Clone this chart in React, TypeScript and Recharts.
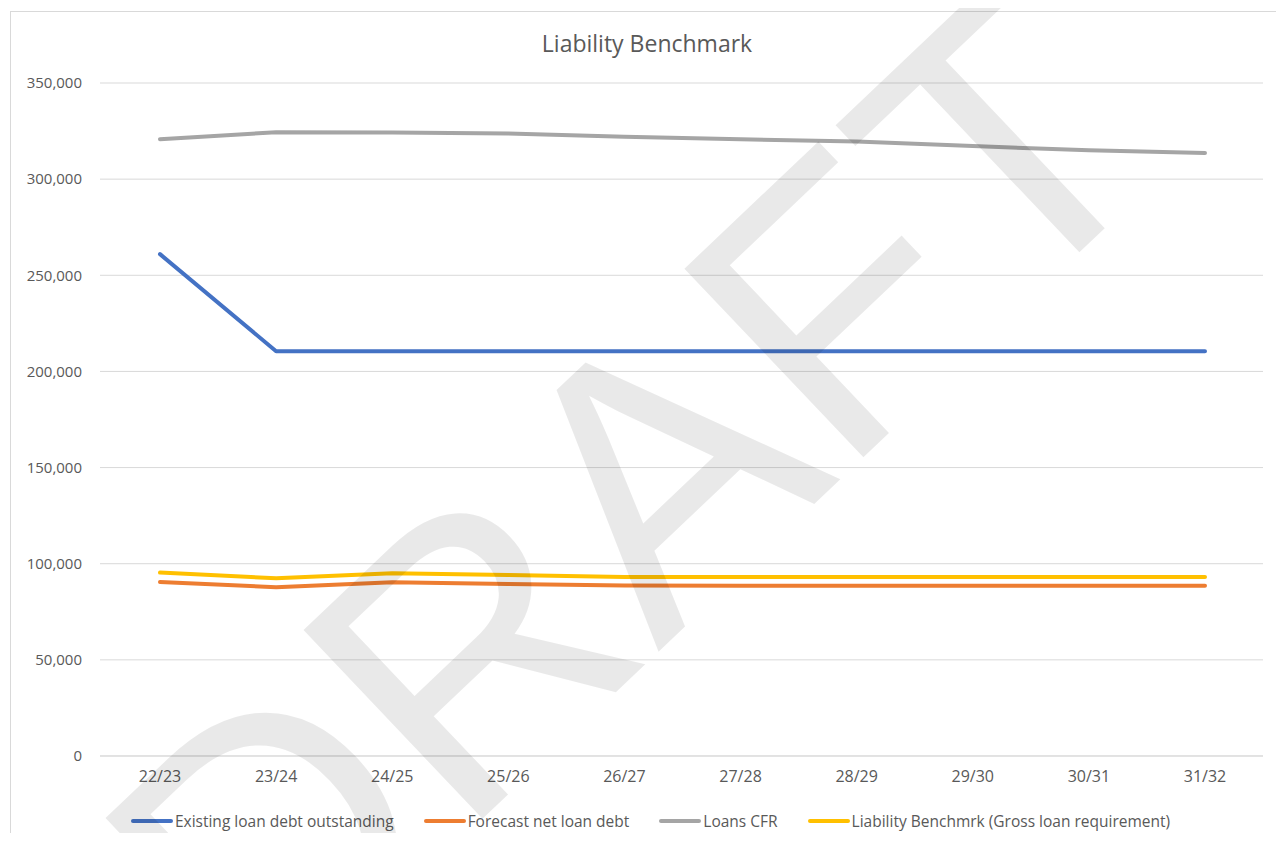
import React from "react";
import { LineChart, Line, XAxis, YAxis, CartesianGrid, Legend } from "recharts";

const years = ["22/23", "23/24", "24/25", "25/26", "26/27", "27/28", "28/29", "29/30", "30/31", "31/32"];
const existingDebt = [261000, 210500, 210500, 210500, 210500, 210500, 210500, 210500, 210500, 210500];
const forecastNetDebt = [90500, 87800, 90300, 89500, 88700, 88600, 88600, 88600, 88600, 88600];
const loansCFR = [320800, 324400, 324300, 323800, 322000, 320700, 319600, 317200, 315000, 313600];
const benchmark = [95400, 92400, 95000, 94100, 93100, 93100, 93100, 93100, 93100, 93100];
const yTicks = [0, 50000, 100000, 150000, 200000, 250000, 300000, 350000];

const series = [
  { key: "existing", name: "Existing loan debt outstanding", color: "#4472C4" },
  { key: "forecast", name: "Forecast net loan debt", color: "#ED7D31" },
  { key: "cfr", name: "Loans CFR", color: "#A5A5A5" },
  { key: "bench", name: "Liability Benchmrk (Gross loan requirement)", color: "#FFC000" },
];

const data = years.map((year, i) => ({
  year,
  existing: existingDebt[i],
  forecast: forecastNetDebt[i],
  cfr: loansCFR[i],
  bench: benchmark[i],
}));

const FONT = "'Open Sans', 'Liberation Sans', sans-serif";
const TEXT = "#595959";

// legend in series order (recharts 3 sorts payload by name otherwise)
function renderLegend() {
  return (
    <div style={{ display: "flex", justifyContent: "center", alignItems: "center", paddingLeft: 38, height: 30 }}>
      {series.map((s, i) => (
        <div key={s.key} style={{ display: "flex", alignItems: "center", marginRight: i < series.length - 1 ? 30 : 0 }}>
          <span style={{ display: "inline-block", width: 42, height: 4, borderRadius: 2, background: s.color }} />
          <span style={{ marginLeft: 2, fontSize: 15.5, color: TEXT, fontFamily: FONT }}>{s.name}</span>
        </div>
      ))}
    </div>
  );
}

export default function App() {
  return (
    <div style={{ position: "relative", margin: -8, width: 1284, height: 841, overflow: "hidden", background: "#fff", fontFamily: FONT }}>
      <div style={{ position: "absolute", left: 10, top: 11, width: 1320, height: 900, border: "1px solid #d9d9d9" }} />
      <div style={{ position: "absolute", left: 0, top: 27, width: 1294, textAlign: "center", fontSize: 23, color: TEXT }}>
        Liability Benchmark
      </div>
      <div style={{ position: "absolute", left: 0, top: 0 }}>
        <LineChart width={1284} height={841} data={data} margin={{ top: 83, right: 21, left: 0, bottom: 5 }}>
          <CartesianGrid vertical={false} stroke="#d9d9d9" />
          <XAxis
            dataKey="year"
            height={50}
            padding={{ left: 60, right: 58 }}
            axisLine={{ stroke: "#d9d9d9" }}
            tickLine={false}
            tickSize={0}
            tickMargin={15}
            tick={{ fontSize: 16, fill: TEXT, fontFamily: FONT }}
          />
          <YAxis
            width={100}
            domain={[0, 350000]}
            ticks={yTicks}
            axisLine={false}
            tickLine={false}
            tickSize={0}
            tickMargin={18}
            tickFormatter={(v: number) => v.toLocaleString("en-US")}
            tick={{ fontSize: 15, fill: TEXT, fontFamily: FONT }}
          />
          <Legend verticalAlign="bottom" height={30} content={renderLegend} />
          {series.map((s) => (
            <Line
              key={s.key}
              type="linear"
              dataKey={s.key}
              name={s.name}
              stroke={s.color}
              strokeWidth={4}
              strokeLinecap="round"
              strokeLinejoin="round"
              dot={false}
              isAnimationActive={false}
            />
          ))}
        </LineChart>
      </div>
      <svg width={1284} height={841} style={{ position: "absolute", left: 0, top: 0, pointerEvents: "none" }}>
        <text
          x={262}
          y={1028}
          textAnchor="start"
          fontSize={378}
          fontFamily="'Liberation Sans', sans-serif"
          fill="#000"
          fillOpacity={0.085}
          transform="rotate(-43.5 262 1028)"
        >
          DRAFT
        </text>
      </svg>
    </div>
  );
}
